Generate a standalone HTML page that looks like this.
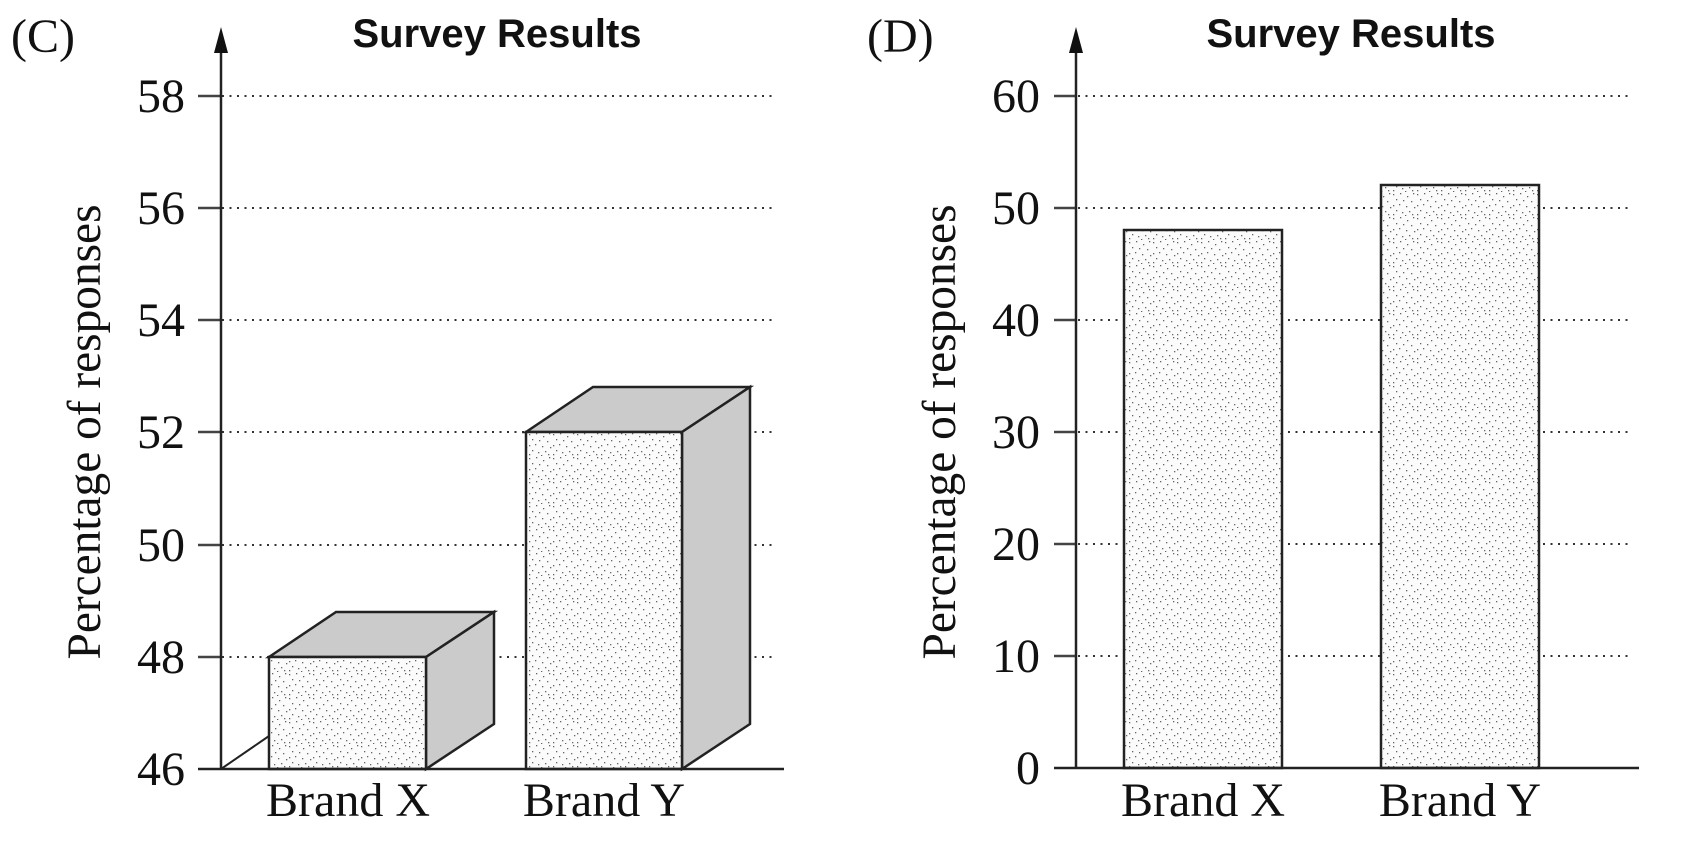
<!DOCTYPE html>
<html><head><meta charset="utf-8"><style>
html,body{margin:0;padding:0;background:#fff}
svg{display:block}
.t{font-family:"Liberation Serif",serif;font-size:48px;fill:#111}
.h{font-family:"Liberation Sans",sans-serif;font-weight:bold;font-size:40px;fill:#111}
.g{stroke:#333;stroke-width:2;stroke-dasharray:2 5.5}
</style></head><body>
<svg width="1682" height="844" viewBox="0 0 1682 844" xmlns="http://www.w3.org/2000/svg">
<defs>
<pattern id="st" width="24" height="24" patternUnits="userSpaceOnUse">
<rect width="24" height="24" fill="#fbfbfb"/>
<g fill="#666">
<rect x="1" y="2" width="1.3" height="1.3"/><rect x="8" y="1" width="1.3" height="1.3"/><rect x="15" y="4" width="1.3" height="1.3"/><rect x="21" y="1" width="1.3" height="1.3"/>
<rect x="4" y="7" width="1.3" height="1.3"/><rect x="11" y="8" width="1.3" height="1.3"/><rect x="19" y="9" width="1.3" height="1.3"/>
<rect x="1" y="13" width="1.3" height="1.3"/><rect x="7" y="12" width="1.3" height="1.3"/><rect x="14" y="14" width="1.3" height="1.3"/><rect x="22" y="15" width="1.3" height="1.3"/>
<rect x="4" y="18" width="1.3" height="1.3"/><rect x="10" y="20" width="1.3" height="1.3"/><rect x="17" y="19" width="1.3" height="1.3"/>
<rect x="1" y="22" width="1.3" height="1.3"/><rect x="13" y="23" width="1.3" height="1.3"/><rect x="20" y="22" width="1.3" height="1.3"/>
</g></pattern>
</defs>

<!-- Panel C -->
<text class="t" x="11" y="52">(C)</text>
<text class="h" x="497" y="47" text-anchor="middle">Survey Results</text>
<g class="g">
<line x1="222" y1="96" x2="774" y2="96"/>
<line x1="222" y1="208" x2="774" y2="208"/>
<line x1="222" y1="320" x2="774" y2="320"/>
<line x1="222" y1="432" x2="774" y2="432"/>
<line x1="222" y1="545" x2="774" y2="545"/>
<line x1="222" y1="657" x2="774" y2="657"/>
</g>
<g stroke="#444" stroke-width="2.5">
<line x1="198" y1="96" x2="221" y2="96"/><line x1="198" y1="208" x2="221" y2="208"/>
<line x1="198" y1="320" x2="221" y2="320"/><line x1="198" y1="432" x2="221" y2="432"/>
<line x1="198" y1="545" x2="221" y2="545"/><line x1="198" y1="657" x2="221" y2="657"/>
</g>
<g class="t" text-anchor="end">
<text x="185" y="112">58</text><text x="185" y="224">56</text><text x="185" y="336">54</text>
<text x="185" y="448">52</text><text x="185" y="561">50</text><text x="185" y="673">48</text><text x="185" y="785">46</text>
</g>
<line x1="221" y1="769" x2="269" y2="736" stroke="#222" stroke-width="2"/>
<g stroke="#222" stroke-width="2.5" stroke-linejoin="miter">
<polygon points="269,657 336,612 494,612 426,657" fill="#cbcbcb"/>
<polygon points="426,657 494,612 494,724 426,769" fill="#cbcbcb"/>
<rect x="269" y="657" width="157" height="112" fill="url(#st)"/>
<polygon points="526,432 593,387 750,387 682,432" fill="#cbcbcb"/>
<polygon points="682,432 750,387 750,724 682,769" fill="#cbcbcb"/>
<rect x="526" y="432" width="156" height="337" fill="url(#st)"/>
</g>
<line x1="198" y1="769" x2="784" y2="769" stroke="#222" stroke-width="2.5"/>
<line x1="221" y1="50" x2="221" y2="769" stroke="#222" stroke-width="2.5"/>
<polygon points="221,27 214,53 228,53" fill="#111"/>
<text class="t" x="348" y="816" text-anchor="middle">Brand X</text>
<text class="t" x="604" y="816" text-anchor="middle">Brand Y</text>
<text class="t" transform="translate(100,432) rotate(-90)" text-anchor="middle" textLength="455" lengthAdjust="spacingAndGlyphs">Percentage of responses</text>

<!-- Panel D -->
<text class="t" x="867" y="52">(D)</text>
<text class="h" x="1351" y="47" text-anchor="middle">Survey Results</text>
<g class="g">
<line x1="1078" y1="96" x2="1629" y2="96"/>
<line x1="1078" y1="208" x2="1629" y2="208"/>
<line x1="1078" y1="320" x2="1629" y2="320"/>
<line x1="1078" y1="432" x2="1629" y2="432"/>
<line x1="1078" y1="544" x2="1629" y2="544"/>
<line x1="1078" y1="656" x2="1629" y2="656"/>
</g>
<g stroke="#444" stroke-width="2.5">
<line x1="1054" y1="96" x2="1076" y2="96"/><line x1="1054" y1="208" x2="1076" y2="208"/>
<line x1="1054" y1="320" x2="1076" y2="320"/><line x1="1054" y1="432" x2="1076" y2="432"/>
<line x1="1054" y1="544" x2="1076" y2="544"/><line x1="1054" y1="656" x2="1076" y2="656"/>
</g>
<g class="t" text-anchor="end">
<text x="1040" y="112">60</text><text x="1040" y="224">50</text><text x="1040" y="336">40</text>
<text x="1040" y="448">30</text><text x="1040" y="560">20</text><text x="1040" y="672">10</text><text x="1040" y="784">0</text>
</g>
<g stroke="#222" stroke-width="2.5">
<rect x="1124" y="230" width="158" height="538" fill="url(#st)"/>
<rect x="1381" y="185" width="158" height="583" fill="url(#st)"/>
</g>
<line x1="1054" y1="768" x2="1639" y2="768" stroke="#222" stroke-width="2.5"/>
<line x1="1076" y1="50" x2="1076" y2="768" stroke="#222" stroke-width="2.5"/>
<polygon points="1076,27 1069,53 1083,53" fill="#111"/>
<text class="t" x="1203" y="816" text-anchor="middle">Brand X</text>
<text class="t" x="1460" y="816" text-anchor="middle">Brand Y</text>
<text class="t" transform="translate(955,432) rotate(-90)" text-anchor="middle" textLength="455" lengthAdjust="spacingAndGlyphs">Percentage of responses</text>
</svg>
</body></html>
